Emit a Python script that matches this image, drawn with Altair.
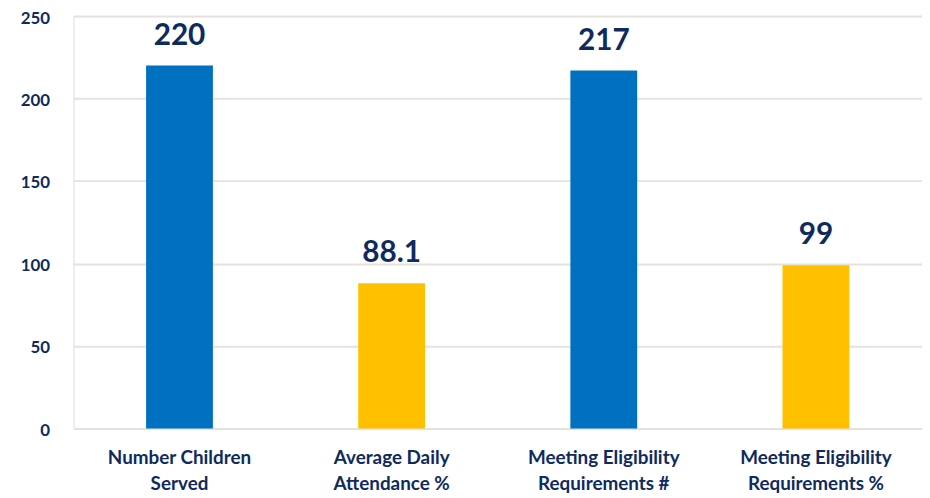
import altair as alt
import pandas as pd

categories = ["Number Children|Served", "Average Daily|Attendance %",
              "Meeting Eligibility|Requirements #", "Meeting Eligibility|Requirements %"]
values = [220, 88.1, 217, 99]
labels = ["220", "88.1", "217", "99"]
colors = ["#0070C0", "#FFC000", "#0070C0", "#FFC000"]

df = pd.DataFrame({"cat": categories, "val": values, "lab": labels, "col": colors})

NAVY = "#0E2A5E"
FONT = "Lato"

x = alt.X("cat:N", sort=categories, title=None,
          scale=alt.Scale(paddingInner=0.685, paddingOuter=0.3425),
          axis=alt.Axis(labelExpr="split(datum.value, '|')", labelAngle=0,
                        labelFont=FONT, labelFontWeight="bold", labelFontSize=19,
                        labelColor=NAVY, labelLineHeight=27, labelPadding=20,
                        ticks=False, domain=False, grid=False))
y = alt.Y("val:Q", title=None,
          scale=alt.Scale(domain=[0, 250], nice=False),
          axis=alt.Axis(values=[0, 50, 100, 150, 200, 250], labelFont=FONT,
                        labelFontWeight="bold", labelFontSize=17, labelColor=NAVY,
                        labelPadding=24, labelOffset=2, ticks=False, domain=False,
                        gridColor="#E6E1DA", gridWidth=2))

base = alt.Chart(df)
bars = base.mark_bar().encode(x=x, y=y, color=alt.Color("col:N", scale=None))
text = base.mark_text(baseline="alphabetic", dy=-21, font=FONT, fontWeight="bold",
                      fontSize=30, color=NAVY).encode(x=x, y=y, text="lab:N")

chart = (bars + text).properties(
    width=856, height=416,
    autosize=alt.AutoSizeParams(type="none"),
    padding={"left": 66, "top": 6, "right": 0, "bottom": 66},
).configure_view(stroke=None).configure(background="white")

chart.save("out.html", embed_options={"renderer": "svg", "actions": False})
